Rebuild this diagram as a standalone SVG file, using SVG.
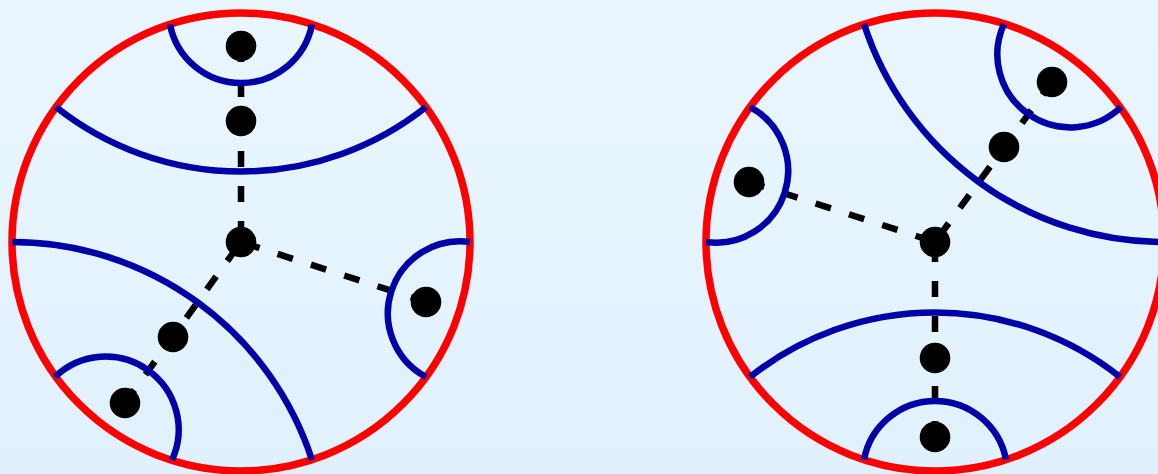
<svg xmlns="http://www.w3.org/2000/svg" width="1158" height="474" viewBox="0 0 1158 474">
<defs>
<linearGradient id="bg" x1="0" y1="0" x2="0" y2="1">
<stop offset="0" stop-color="#eaf6fe"/>
<stop offset="1" stop-color="#e0f1fd"/>
</linearGradient>
<style>
.disk{fill:none;stroke:#ff0000;stroke-width:7.5}
.geo{fill:none;stroke:#0000a8;stroke-width:6.5;stroke-linecap:butt}
.link{fill:none;stroke:#000000;stroke-width:6.5;stroke-dasharray:16 19;stroke-linecap:butt}
.dot{fill:#000000}
</style>
</defs>
<rect x="0" y="0" width="1158" height="474" fill="url(#bg)"/>

<g id="left-disk">
<circle class="disk" cx="241" cy="242" r="229"/>
</g>
<g id="right-disk">
<circle class="disk" cx="935" cy="242" r="229"/>
</g>

<g id="connectors">
<path class="link" d="M241,46 L241,242"/>
<path class="link" d="M426,302 L241,242"/>
<path class="link" d="M125,403 L241,242"/>
<path class="link" d="M935,437 L935,242"/>
<path class="link" d="M749,182 L935,242"/>
<path class="link" d="M1052,82 L935,242"/>
</g>

<g id="left-arcs">
<path class="geo" d="M170,24.3 A72.3,72.3 0 0 0 312,24.3"/>
<path class="geo" d="M56,107 A297.6,297.6 0 0 0 426,107"/>
<path class="geo" d="M470,242 A72.1,72.1 0 0 0 426,377"/>
<path class="geo" d="M55,377 A73,73 0 0 1 172,460"/>
<path class="geo" d="M12,242 A315.2,315.2 0 0 1 312,460"/>
</g>
<g id="right-arcs">
<path class="geo" d="M1006,459.7 A72.3,72.3 0 0 0 864,459.7"/>
<path class="geo" d="M1120,377 A297.6,297.6 0 0 0 750,377"/>
<path class="geo" d="M706,242 A72.1,72.1 0 0 0 750,107"/>
<path class="geo" d="M1121,107 A73,73 0 0 1 1004,24"/>
<path class="geo" d="M1164,242 A315.2,315.2 0 0 1 864,24"/>
</g>

<g id="node-l-top"><circle class="dot" cx="241" cy="46" r="15.3"/></g>
<g id="node-l-mid"><circle class="dot" cx="241" cy="121" r="15.3"/></g>
<g id="node-l-center"><circle class="dot" cx="241" cy="242" r="15.3"/></g>
<g id="node-l-right"><circle class="dot" cx="426" cy="302" r="15.3"/></g>
<g id="node-l-lowmid"><circle class="dot" cx="173" cy="337" r="15.3"/></g>
<g id="node-l-low"><circle class="dot" cx="125" cy="403" r="15.3"/></g>

<g id="node-r-bottom"><circle class="dot" cx="935" cy="437" r="15.3"/></g>
<g id="node-r-mid"><circle class="dot" cx="935" cy="358" r="15.3"/></g>
<g id="node-r-center"><circle class="dot" cx="935" cy="242" r="15.3"/></g>
<g id="node-r-left"><circle class="dot" cx="749" cy="182" r="15.3"/></g>
<g id="node-r-upmid"><circle class="dot" cx="1004" cy="147" r="15.3"/></g>
<g id="node-r-up"><circle class="dot" cx="1052" cy="82" r="15.3"/></g>
</svg>
